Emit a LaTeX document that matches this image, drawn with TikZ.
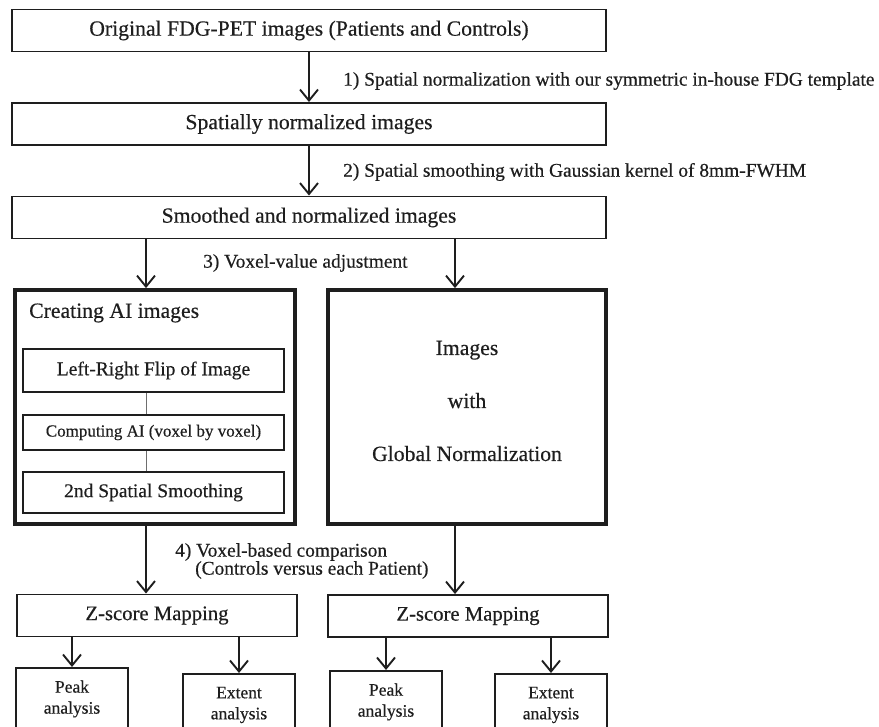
\documentclass[tikz,border=0pt]{standalone}
\usepackage{fontspec}
\setmainfont{Liberation Serif}[FakeBold=0.4]
\usetikzlibrary{positioning,arrows.meta}
\definecolor{Ink}{RGB}{30,30,30}
\definecolor{LinkGray}{RGB}{110,110,110}
\newcommand{\fsz}[1]{\fontsize{#1}{#1}\selectfont}
\tikzset{
	stage/.style={draw=Ink,line width=1.9pt,inner sep=0pt,text=Ink,
		minimum width=594pt,minimum height=42pt,font=\fsz{21.7}},
	heavy/.style={draw=Ink,line width=3.8pt,inner sep=0pt,text=Ink,minimum height=234pt},
	sub/.style={draw=Ink,line width=1.6pt,inner sep=0pt,text=Ink,minimum width=261pt,font=\fsz{19.5}},
	zmap/.style={draw=Ink,line width=1.9pt,inner sep=0pt,text=Ink,
		minimum width=280pt,minimum height=42pt,font=\fsz{20.7}},
	leaf/.style={draw=Ink,line width=1.9pt,inner sep=0pt,text=Ink,anchor=north,align=center,
		minimum width=112pt,minimum height=62pt,font=\fontsize{17.5}{21}\selectfont},
	note/.style={anchor=west,inner sep=0pt,text=Ink,font=\fsz{19.4}},
	flow/.style={draw=Ink,line width=1.9pt,-{Straight Barb[length=11pt,width=18pt,line width=1.9pt]}},
	link/.style={draw=LinkGray,line width=0.9pt},
}

\begin{document}
\begin{tikzpicture}[x=1pt,y=-1pt]
	\path[use as bounding box,fill=white] (0,0) rectangle (879,727);
	% main chain
	\node[stage] (orig) at (309,30.5) {Original FDG-PET images (Patients and Controls)};
	\node[stage] (snorm) at (309,124) {Spatially normalized images};
	\node[stage] (smth) at (309,217.5) {Smoothed and normalized images};
	\draw[flow] (orig) -- (snorm);
	\draw[flow] (snorm) -- (smth);
	\node[note] (s1) at (343,81) {1) Spatial normalization with our symmetric in-house FDG template};
	\node[note] (s2) at (343,172) {2) Spatial smoothing with Gaussian kernel of 8mm-FWHM};
	\node[note] (s3) at (203,263) {3) Voxel-value adjustment};
	% the two branches
	\node[heavy,minimum width=280pt] (ai) at (155,407) {};
	\node[heavy,minimum width=278pt] (gn) at (467,407) {};
	\node[align=center,inner sep=0pt,text=Ink,font=\fontsize{21.7}{53}\selectfont] (gntxt)
		at ([yshift=6pt]gn.center) {Images\\with\\Global Normalization};
	\node[note,font=\fsz{21.7}] (aititle) at (29,313) {Creating AI images};
	\node[sub,minimum height=43pt] (flip) at (153.5,370.5) {Left-Right Flip of Image};
	\node[sub,minimum height=35pt,font=\fsz{17}] (cmp) at (153.5,432.5) {Computing AI (voxel by voxel)};
	\node[sub,minimum height=41pt] (sm2) at (153.5,492.5) {2nd Spatial Smoothing};
	\coordinate (cl) at (146,0);
	\coordinate (cr) at (455,0);
	\draw[link] (flip.south -| cl) -- (cmp.north -| cl);
	\draw[link] (cmp.south -| cl) -- (sm2.north -| cl);
	\draw[flow] (smth.south -| cl) -- (ai.north -| cl);
	\draw[flow] (smth.south -| cr) -- (gn.north -| cr);
	% comparison
	\node[zmap] (zl) at (157,615.5) {Z-score Mapping};
	\node[zmap] (zr) at (468,616) {Z-score Mapping};
	\draw[flow] (ai.south -| cl) -- (zl.north -| cl);
	\draw[flow] (gn.south -| cr) -- (zr.north -| cr);
	\node[note,align=left,font=\fontsize{19.4}{18}\selectfont] (s4) at (175,561)
		{4) Voxel-based comparison\\\hspace*{20pt}(Controls versus each Patient)};
	% analyses
	\node[leaf] (peakl) at (72,667) {Peak\\analysis};
	\node[leaf] (extl) at (239,673) {Extent\\analysis};
	\node[leaf] (peakr) at (386,670) {Peak\\analysis};
	\node[leaf] (extr) at (551,673) {Extent\\analysis};
	\foreach \z/\b in {zl/peakl,zl/extl,zr/peakr,zr/extr}
		\draw[flow] (\z.south -| \b.north) -- (\b.north);
\end{tikzpicture}
\end{document}
